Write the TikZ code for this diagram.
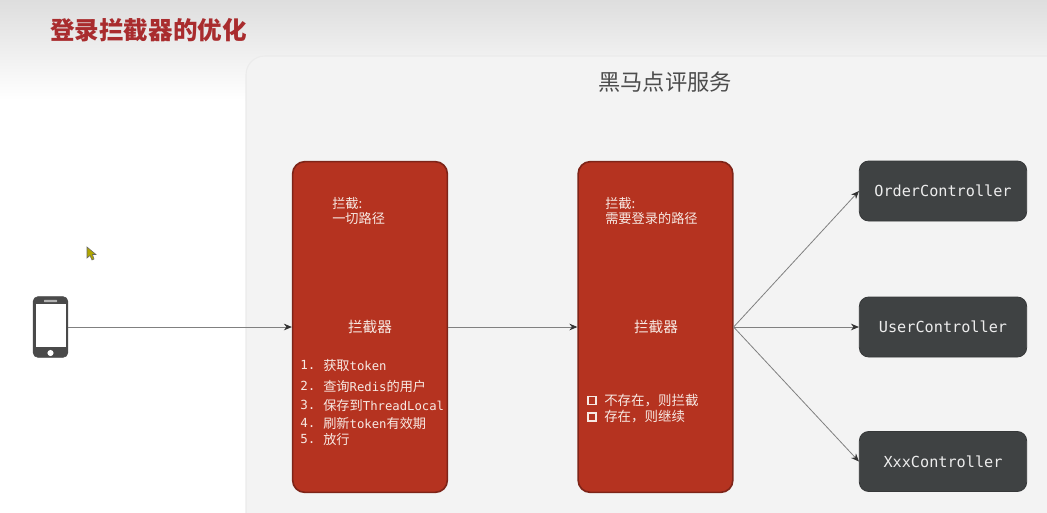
\documentclass[tikz,border=0pt]{standalone}
\usepackage{fontspec}
\usepackage{tikz}
\usetikzlibrary{arrows.meta}
\setmainfont{Liberation Sans}
\newfontfamily\cjkfont{Noto Sans CJK SC}
\newfontfamily\monofont{DejaVu Sans Mono}
\definecolor{boxred}{HTML}{B53320}
\definecolor{boxredline}{HTML}{7E2418}
\definecolor{ctrlgray}{HTML}{3F4243}
\definecolor{panelgray}{HTML}{F3F3F3}
\definecolor{titlered}{HTML}{A92C2E}
\definecolor{phonegray}{HTML}{4A4A4A}
\definecolor{boxtext}{HTML}{F7E9E3}
\begin{document}
\begin{tikzpicture}[x=0.75pt,y=-0.75pt,
  filterbox/.style={draw=boxredline,line width=1.2pt,fill=boxred,rounded corners=9pt,minimum width=116pt,minimum height=248pt,inner sep=0pt},
  ctrlbox/.style={draw=ctrlgray!85!black,line width=0.6pt,fill=ctrlgray,rounded corners=7pt,minimum width=125.5pt,minimum height=45pt,inner sep=0pt,text=white!93!black,font=\fontsize{11.4}{14}\selectfont\monofont},
  boxlabel/.style={text=boxtext,inner sep=0pt,anchor=west,font=\fontsize{9.9}{12}\selectfont\cjkfont},
  boxtitle/.style={text=boxtext,inner sep=0pt,font=\fontsize{11}{13}\selectfont\cjkfont},
  arrowline/.style={draw=black!50,line width=0.6pt,-{Stealth[length=6pt,width=5pt,black!80]}}]
\useasboundingbox (0,0) rectangle (1047,512);
\clip (0,0) rectangle (1047,512);
\shade[top color=black!13,bottom color=white] (0,0) rectangle (1047,100);
\fill[panelgray,rounded corners=14pt] (246,56) rectangle (1090,560);
\draw[black!8,line width=0.8pt,rounded corners=14pt] (246,540) -- (246,56) -- (1090,56);
\node[inner sep=0pt,text=titlered,font=\fontsize{18.4}{22}\selectfont\cjkfont\bfseries] (title) at (148.5,30) {登录拦截器的优化};
\node[inner sep=0pt,text=black!70,font=\fontsize{16.7}{20}\selectfont\cjkfont] (service) at (665,82) {黑马点评服务};
\node[draw=phonegray,fill=phonegray,rounded corners=3.5pt,minimum width=26pt,minimum height=45.5pt,inner sep=0pt] (phone) at (50.5,327) {};
\fill[white] (35.5,304) rectangle (65.5,347);
\fill[black!30,rounded corners=0.5pt] (44,299.8) rectangle (57,302.2);
\node[circle,fill=white,inner sep=0pt,minimum size=4.6pt] (homekey) at (50.5,353) {};
\fill[olive!70!yellow,draw=black!60,line width=0.4pt] (87,247) -- (87,258) -- (90,255.5) -- (92,260) -- (94,259) -- (92.5,254.5) -- (96,254.5) -- cycle;
\node[filterbox] (login) at (370,327) {};
\node[filterbox] (refresh) at (655.5,327) {};
\node[ctrlbox] (order) at (943,191) {OrderController};
\node[ctrlbox] (user) at (943,327) {UserController};
\node[ctrlbox] (xxx) at (943,461.5) {XxxController};
\draw[arrowline] (phone.east) -- (login.west);
\draw[arrowline] (login.east) -- (refresh.west);
\foreach \c in {order,user,xxx} \draw[arrowline] (refresh.east) -- (\c.west);
\node[boxlabel] (loginhead) at (332,203.5) {拦截:};
\node[boxlabel] (loginpath) at (332,218.5) {一切路径};
\node[boxtitle] (logintitle) at (370,327) {拦截器};
\foreach \n/\y/\t in {1/365/获取{\monofont\fontsize{9.2}{12}\selectfont token},2/386/查询{\monofont\fontsize{9.2}{12}\selectfont Redis}的用户,3/405/保存到{\monofont\fontsize{9.2}{12}\selectfont ThreadLocal},4/423/刷新{\monofont\fontsize{9.2}{12}\selectfont token}有效期,5/439/放行} {
  \node[boxlabel,font=\fontsize{9.4}{12}\selectfont\monofont] (num\n) at (300,\y) {\n.};
  \node[boxlabel] (item\n) at (323,\y) {\t};
}
\node[boxlabel] (refreshhead) at (605,203.5) {拦截:};
\node[boxlabel] (refreshpath) at (605,218.5) {需要登录的路径};
\node[boxtitle] (refreshtitle) at (656,327) {拦截器};
\foreach \n/\y/\t in {1/400.5/不存在，则拦截,2/417/存在，则继续} {
  \node[draw=boxtext,line width=1.2pt,inner sep=0pt,minimum size=6pt] (check\n) at (592,\y) {};
  \node[boxlabel,font=\fontsize{10.1}{12}\selectfont\cjkfont] (case\n) at (604,\y) {\t};
}
\end{tikzpicture}
\end{document}
